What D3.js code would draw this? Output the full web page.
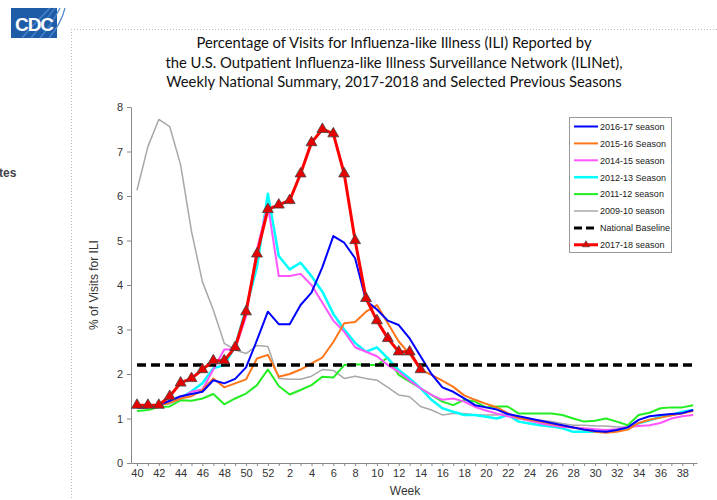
<!DOCTYPE html>
<html>
<head>
<meta charset="utf-8">
<script src="https://d3js.org/d3.v7.min.js"></script>
<style>
  body { margin: 0; background: #fff; }
  svg { display: block; }
</style>
</head>
<body>
<div id="chart"></div>
<script>
/* ILINet weekly national summary, 2017-18 vs selected seasons */

var weeks = [40, 41, 42, 43, 44, 45, 46, 47, 48, 49, 50, 51, 52,
  1, 2, 3, 4, 5, 6, 7, 8, 9, 10, 11, 12, 13, 14, 15, 16, 17, 18, 19, 20,
  21, 22, 23, 24, 25, 26, 27, 28, 29, 30, 31, 32, 33, 34, 35, 36, 37, 38, 39];

var s1617 = [1.25, 1.25, 1.3, 1.4, 1.5, 1.55, 1.6, 1.86, 1.79, 1.89, 2.15, 2.76, 3.4,
  3.12, 3.12, 3.55, 3.83, 4.4, 5.1, 4.95, 4.6, 3.65, 3.45, 3.2, 3.1, 2.8,
  2.4, 2.0, 1.7, 1.6, 1.45, 1.3, 1.25, 1.2, 1.1, 1.05, 1.0, 0.95, 0.9,
  0.85, 0.8, 0.75, 0.72, 0.7, 0.74, 0.8, 0.97, 1.05, 1.08, 1.1, 1.12, 1.19];

var s1516 = [1.25, 1.25, 1.3, 1.35, 1.45, 1.5, 1.64, 1.9, 1.7, 1.79, 1.88, 2.35, 2.43,
  1.94, 2.0, 2.1, 2.24, 2.37, 2.72, 3.14, 3.17, 3.4, 3.55, 3.14, 2.73, 2.45,
  2.1, 1.98, 1.85, 1.71, 1.52, 1.42, 1.33, 1.25, 1.12, 1.01, 0.97, 0.93, 0.88,
  0.84, 0.8, 0.75, 0.7, 0.68, 0.7, 0.75, 0.9, 0.97, 1.02, 1.07, 1.12, 1.17];

var s1415 = [1.25, 1.25, 1.3, 1.35, 1.45, 1.6, 1.65, 2.1, 2.55, 2.55, 3.3, 4.8, 5.8,
  4.2, 4.2, 4.25, 4.0, 3.6, 3.2, 2.95, 2.6, 2.5, 2.4, 2.2, 2.05, 1.85,
  1.68, 1.53, 1.42, 1.45, 1.38, 1.26, 1.18, 1.11, 1.05, 1.0, 0.95, 0.89, 0.85,
  0.81, 0.8, 0.78, 0.76, 0.74, 0.76, 0.81, 0.83, 0.85, 0.9, 1.0, 1.05, 1.08];

var s1213 = [1.25, 1.25, 1.3, 1.35, 1.46, 1.61, 1.79, 2.13, 2.2, 2.62, 3.48, 4.4, 6.05,
  4.65, 4.35, 4.5, 4.2, 3.85, 3.35, 3.0, 2.7, 2.5, 2.6, 2.35, 2.09, 1.9,
  1.68, 1.42, 1.23, 1.15, 1.08, 1.08, 1.04, 1.0, 1.08, 0.93, 0.89, 0.85, 0.82,
  0.78, 0.7, 0.7, 0.7, 0.7, 0.74, 0.78, 0.89, 0.96, 1.04, 1.08, 1.15, 1.19];

var s1112 = [1.17, 1.19, 1.26, 1.27, 1.41, 1.4, 1.45, 1.55, 1.32, 1.45, 1.56, 1.75, 2.1,
  1.73, 1.54, 1.64, 1.75, 1.94, 1.92, 2.2, 2.22, 2.2, 2.2, 2.37, 1.98, 1.83,
  1.68, 1.53, 1.38, 1.3, 1.42, 1.38, 1.25, 1.27, 1.27, 1.11, 1.11, 1.11, 1.11,
  1.08, 1.0, 0.93, 0.95, 1.0, 0.93, 0.85, 1.08, 1.13, 1.23, 1.25, 1.25, 1.3];

var s0910 = [6.13, 7.11, 7.72, 7.56, 6.7, 5.2, 4.07, 3.44, 2.69, 2.54, 2.46, 2.64, 2.62,
  1.9, 1.88, 1.88, 1.95, 2.1, 2.08, 1.9, 1.95, 1.9, 1.86, 1.7, 1.53, 1.49,
  1.27, 1.19, 1.08, 1.11, 1.11, 1.08, 1.08, 1.08, 1.11, 1.0, 0.96, 0.96, 0.93,
  0.89, 0.85, 0.85, 0.83, 0.83, 0.81, 0.81, 0.89, 0.96, 1.04, 1.08, 1.11, 1.19];

var s1718 = [1.3, 1.3, 1.3, 1.5, 1.8, 1.9, 2.1, 2.3, 2.3, 2.6, 3.4, 4.7, 5.7,
  5.8, 5.9, 6.5, 7.2, 7.5, 7.4, 6.5, 5.0, 3.7, 3.2, 2.8, 2.5, 2.5, 2.1];

var baseline = 2.2;

var titleLines = [
  'Percentage of Visits for Influenza-like Illness (ILI) Reported by',
  'the U.S. Outpatient Influenza-like Illness Surveillance Network (ILINet),',
  'Weekly National Summary, 2017-2018 and Selected Previous Seasons'
];

var legendLabels = ['2016-17 season', '2015-16 Season', '2014-15 season', '2012-13 Season',
  '2011-12 season', '2009-10 season', 'National Baseline', '2017-18 season'];

(function draw() {
  var W = 717, H = 500;
  var svg = d3.select('#chart').append('svg')
    .attr('width', W).attr('height', H);

  var axisFont = '"Liberation Sans", Arial, sans-serif';

  /* page furniture: logo, dotted frame, cut-off side text */
  var logo = svg.append('g');
  logo.append('rect').attr('x', 11).attr('y', 8).attr('width', 46).attr('height', 30)
    .attr('fill', '#1f5ca8');
  [0, 1, 2, 3].forEach(function (k) {
    logo.append('path')
      .attr('d', 'M' + (22 + k * 9) + ',38 Q' + (34 + k * 9) + ',24 ' + (50 + k * 5) + ',8')
      .attr('fill', 'none').attr('stroke', '#4d86cc').attr('stroke-width', 1.2);
  });
  logo.append('text').attr('x', 34).attr('y', 31)
    .attr('text-anchor', 'middle')
    .attr('font-family', axisFont).attr('font-weight', 'bold')
    .attr('font-size', 19).attr('letter-spacing', -1)
    .attr('fill', '#fff').text('CDC');

  svg.append('line').attr('x1', 71).attr('y1', 29.5).attr('x2', W).attr('y2', 29.5)
    .attr('stroke', '#bbb').attr('stroke-dasharray', '1,2');
  svg.append('line').attr('x1', 71.5).attr('y1', 29).attr('x2', 71.5).attr('y2', H)
    .attr('stroke', '#bbb').attr('stroke-dasharray', '1,2');

  svg.append('text').attr('x', -1).attr('y', 177)
    .attr('font-family', axisFont).attr('font-weight', 'bold')
    .attr('font-size', 12).attr('fill', '#444').text('tes');

  /* title */
  titleLines.forEach(function (t, i) {
    svg.append('text')
      .attr('x', 394).attr('y', 48 + i * 19.5)
      .attr('text-anchor', 'middle')
      .attr('font-family', 'Lato, "Open Sans", sans-serif')
      .attr('font-size', 14.8).attr('fill', '#111')
      .text(t);
  });

  /* scales */
  var x = d3.scaleLinear().domain([-0.55, 51.35]).range([131, 697]);
  var y = d3.scaleLinear().domain([0, 8]).range([463, 107]);

  /* axes */
  var gy = svg.append('g').attr('transform', 'translate(131,0)')
    .call(d3.axisLeft(y).ticks(8).tickSize(4).tickPadding(4).tickSizeOuter(0));
  var gx = svg.append('g').attr('transform', 'translate(0,463)')
    .call(d3.axisBottom(x).tickValues(d3.range(0, weeks.length))
      .tickSize(3).tickPadding(3).tickSizeOuter(0)
      .tickFormat(function (d) { return d % 2 === 0 ? weeks[d] : ''; }));
  [gx, gy].forEach(function (g) {
    g.select('.domain').attr('stroke', '#888');
    g.selectAll('.tick line').attr('stroke', '#888');
    g.selectAll('.tick text').attr('font-family', axisFont)
      .attr('font-size', 11).attr('fill', '#333');
  });

  svg.append('text').attr('x', 405).attr('y', 495)
    .attr('text-anchor', 'middle').attr('font-family', axisFont)
    .attr('font-size', 12).attr('fill', '#333').text('Week');
  svg.append('text')
    .attr('transform', 'translate(98,285) rotate(-90)')
    .attr('text-anchor', 'middle').attr('font-family', axisFont)
    .attr('font-size', 12).attr('fill', '#333').text('% of Visits for ILI');

  /* season lines, back to front */
  var line = d3.line()
    .x(function (d, i) { return x(i); })
    .y(function (d) { return y(d); });

  var series = [
    { data: s0910, color: '#a8a8a8', w: 1.5 },
    { data: s1112, color: '#22ee22', w: 2 },
    { data: s1213, color: '#00ffff', w: 2.5 },
    { data: s1415, color: '#ff55ff', w: 2 },
    { data: s1516, color: '#ff7519', w: 2 },
    { data: s1617, color: '#0000ff', w: 2 }
  ];
  series.forEach(function (s) {
    svg.append('path').datum(s.data)
      .attr('d', line)
      .attr('fill', 'none').attr('stroke', s.color)
      .attr('stroke-width', s.w).attr('stroke-linejoin', 'round');
  });

  /* national baseline */
  svg.append('line')
    .attr('x1', x(0)).attr('y1', y(baseline))
    .attr('x2', x(weeks.length - 1)).attr('y2', y(baseline))
    .attr('stroke', '#000').attr('stroke-width', 3.5)
    .attr('stroke-dasharray', '9,5');

  /* 2017-18 season */
  svg.append('path').datum(s1718)
    .attr('d', line)
    .attr('fill', 'none').attr('stroke', '#ff0000')
    .attr('stroke-width', 3).attr('stroke-linejoin', 'round');
  var tri = d3.symbol().type(d3.symbolTriangle).size(52);
  svg.selectAll('.mk').data(s1718).enter().append('path')
    .attr('class', 'mk')
    .attr('d', tri)
    .attr('transform', function (d, i) { return 'translate(' + x(i) + ',' + y(d) + ')'; })
    .attr('fill', '#e60000').attr('stroke', '#444').attr('stroke-width', 0.8);

  /* legend */
  var lg = svg.append('g');
  lg.append('rect').attr('x', 569.5).attr('y', 117.5).attr('width', 102).attr('height', 135)
    .attr('fill', '#fff').attr('stroke', '#999');
  var legStyles = [
    { color: '#0000ff', w: 2 },
    { color: '#ff7519', w: 2 },
    { color: '#ff55ff', w: 2 },
    { color: '#00ffff', w: 2.5 },
    { color: '#22ee22', w: 2 },
    { color: '#a8a8a8', w: 1.5 },
    { color: '#000', w: 3, dash: '8,4' },
    { color: '#ff0000', w: 3, marker: true }
  ];
  legendLabels.forEach(function (lab, i) {
    var ly = 126.5 + i * 16.9;
    var st = legStyles[i];
    lg.append('line').attr('x1', 574).attr('y1', ly).attr('x2', 598).attr('y2', ly)
      .attr('stroke', st.color).attr('stroke-width', st.w)
      .attr('stroke-dasharray', st.dash || null);
    if (st.marker) {
      lg.append('path').attr('d', d3.symbol().type(d3.symbolTriangle).size(22))
        .attr('transform', 'translate(586,' + ly + ')')
        .attr('fill', '#e60000').attr('stroke', '#444').attr('stroke-width', 0.6);
    }
    lg.append('text').attr('x', 600).attr('y', ly + 3.3)
      .attr('font-family', axisFont).attr('font-size', 9)
      .attr('fill', '#222').text(lab);
  });
}());
</script>
</body>
</html>
